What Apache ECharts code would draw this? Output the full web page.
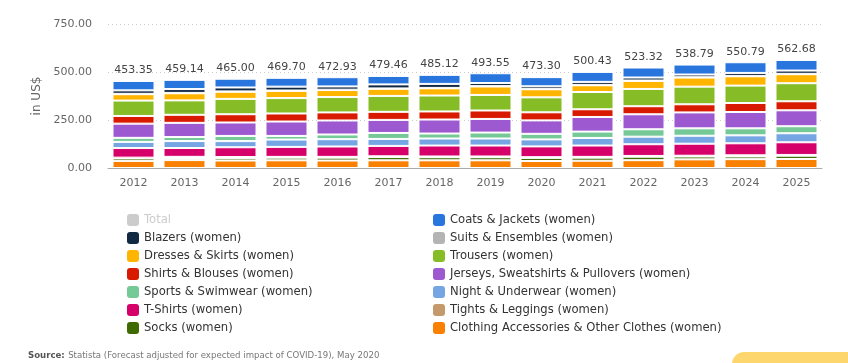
<!DOCTYPE html>
<html>
<head>
<meta charset="utf-8">
<script src="https://cdn.jsdelivr.net/npm/echarts@6/dist/echarts.min.js"></script>
<style>
html,body{margin:0;padding:0;background:#fff;}
#chart{width:848px;height:363px;}
</style>
</head>
<body>
<div id="chart"></div>
<script>
var years = ['2012','2013','2014','2015','2016','2017','2018','2019','2020','2021','2022','2023','2024','2025'];
var totals = [453.35, 459.14, 465.00, 469.70, 472.93, 479.46, 485.12, 493.55, 473.30, 500.43, 523.32, 538.79, 550.79, 562.68];
var clothing = [37, 41.14, 39, 40, 39, 40, 40, 40, 36.5, 38, 40.72, 45, 46.09, 47];
var socks = [13, 11, 12, 14, 15, 17, 16, 16, 16, 16, 18, 15, 14, 17];
var tights = [4, 6, 6, 4, 4, 4, 4, 4, 4, 4, 4, 4, 6, 4];
var tshirts = [50, 46, 51, 52, 54, 54, 57, 57, 56, 59, 61, 62.5, 62.5, 66];
var night = [32, 36, 32, 38, 38, 36.5, 36.5, 36.5, 36.5, 39.5, 39.5, 41.5, 41.5, 47];
var sports = [21, 21, 27, 19, 24.5, 31, 26, 31, 29, 33, 38.5, 38.5, 36.5, 36.5];
var jerseys = [74, 74, 70, 75, 73, 68, 73, 71, 70, 76.33, 78, 83, 85, 83];
var shirts = [40, 42, 43, 42, 42, 42, 42, 44, 42, 40, 42, 42.29, 47, 47];
var trousers = [80, 75, 80, 80, 80, 83, 83, 81, 78, 90, 90, 92, 90.5, 94];
var dresses = [33.35, 37, 37, 37.7, 36.43, 37, 37.62, 44, 42, 35, 42, 47, 48.5, 47];
var suits = [2, 2, 2, 2, 2, 2, 2, 2, 2, 2, 2, 2, 2, 2];
var blazers = [18, 20, 20.5, 20, 17, 21, 21, 16, 13.5, 15.6, 15.6, 14, 15.6, 17];
var coats = [49, 48, 45.5, 46, 48, 43.96, 47, 51.05, 47.8, 52, 52, 52, 55.6, 55.18];
var yTicks = [0, 250, 500, 750];

var FONT = 'DejaVu Sans';
var stackDefs = [
  ['Clothing Accessories & Other Clothes (women)', clothing, '#f98000'],
  ['Socks (women)', socks, '#406a00'],
  ['Tights & Leggings (women)', tights, '#c4996b'],
  ['T-Shirts (women)', tshirts, '#d6006a'],
  ['Night & Underwear (women)', night, '#76a5e4'],
  ['Sports & Swimwear (women)', sports, '#74c996'],
  ['Jerseys, Sweatshirts & Pullovers (women)', jerseys, '#9d59cf'],
  ['Shirts & Blouses (women)', shirts, '#d81a00'],
  ['Trousers (women)', trousers, '#86bc25'],
  ['Dresses & Skirts (women)', dresses, '#ffb400'],
  ['Suits & Ensembles (women)', suits, '#b4b4b4'],
  ['Blazers (women)', blazers, '#122943'],
  ['Coats & Jackets (women)', coats, '#2876dd']
];

var series = [{
  name: 'Total', type: 'bar', stack: 'a', data: totals, barWidth: 42,
  itemStyle: {color: '#cccccc'}
}];
stackDefs.forEach(function (d, i) {
  var s = {
    name: d[0], type: 'bar', stack: 'a', data: d[1], barWidth: 42,
    itemStyle: {color: d[2], borderColor: '#ffffff', borderWidth: 1},
    emphasis: {disabled: true}
  };
  if (i === stackDefs.length - 1) {
    s.label = {
      show: true, position: 'top', distance: 5,
      fontFamily: FONT, fontSize: 11, color: '#444',
      formatter: function (p) { return totals[p.dataIndex].toFixed(2); }
    };
  }
  series.push(s);
});

var legendCommon = {
  orient: 'vertical', top: 209, itemWidth: 12, itemHeight: 12, itemGap: 6,
  icon: 'roundRect', inactiveColor: '#cccccc',
  textStyle: {fontFamily: FONT, fontSize: 11.6, color: '#333', padding: [0, 0, 0, 0]},
  itemStyle: {borderWidth: 0}
};

var option = {
  animation: false,
  textStyle: {fontFamily: FONT},
  grid: {left: 108, right: 26, top: 24, bottom: 195},
  legend: [
    Object.assign({}, legendCommon, {
      left: 122,
      data: ['Total', 'Blazers (women)', 'Dresses & Skirts (women)', 'Shirts & Blouses (women)',
             'Sports & Swimwear (women)', 'T-Shirts (women)', 'Socks (women)'],
      selected: {'Total': false}
    }),
    Object.assign({}, legendCommon, {
      left: 428,
      data: ['Coats & Jackets (women)', 'Suits & Ensembles (women)', 'Trousers (women)',
             'Jerseys, Sweatshirts & Pullovers (women)', 'Night & Underwear (women)',
             'Tights & Leggings (women)', 'Clothing Accessories & Other Clothes (women)']
    })
  ],
  xAxis: {
    type: 'category', data: years,
    axisLine: {lineStyle: {color: '#aaaaaa'}},
    axisTick: {show: false},
    axisLabel: {color: '#666', fontSize: 11, fontFamily: FONT, margin: 10}
  },
  yAxis: {
    type: 'value', min: yTicks[0], max: yTicks[yTicks.length - 1], interval: 250,
    name: 'in US$', nameLocation: 'middle', nameRotate: 90, nameGap: 60,
    nameTextStyle: {color: '#666', fontSize: 12, fontFamily: FONT},
    axisLine: {show: false}, axisTick: {show: false},
    axisLabel: {color: '#666', fontSize: 11, fontFamily: FONT, margin: 16,
      formatter: function (v) { return v.toFixed(2); }},
    splitLine: {lineStyle: {color: '#cccccc', type: [1, 3]}}
  },
  graphic: [
    {type: 'text', left: 28, top: 350, style: {
      text: '{b|Source:} {n|Statista (Forecast adjusted for expected impact of COVID-19), May 2020}',
      rich: {
        b: {fontFamily: FONT, fontSize: 8.6, fontWeight: 'bold', fill: '#555'},
        n: {fontFamily: FONT, fontSize: 8.6, fill: '#777'}
      }
    }},
    {type: 'rect', shape: {x: 732, y: 352, width: 140, height: 30, r: 12}, style: {fill: '#fdd76e'}}
  ],
  series: series
};

var chart = echarts.init(document.getElementById('chart'), null, {renderer: 'canvas'});
chart.setOption(option);
</script>
</body>
</html>
